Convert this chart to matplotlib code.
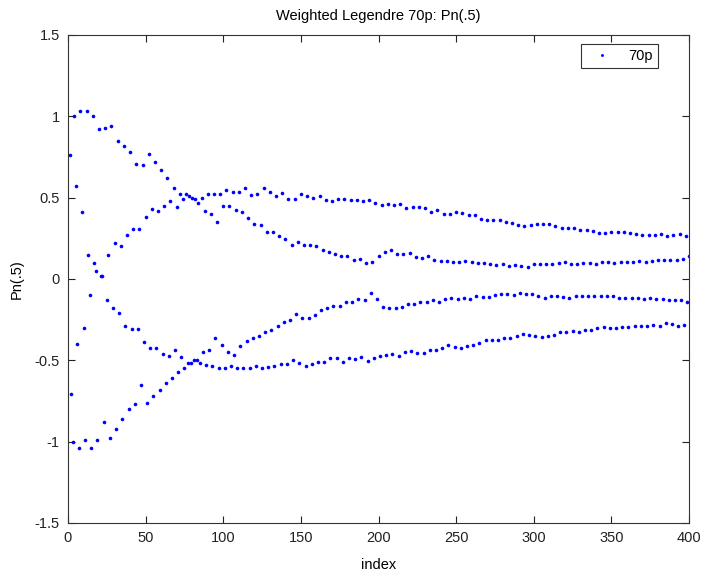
import numpy as np
import matplotlib
matplotlib.use("Agg")
import matplotlib.pyplot as plt

plt.rcParams['font.family'] = ['Liberation Sans', 'DejaVu Sans']

# four interleaved branches of the weighted Legendre values (every 4th index)
idx_a = np.arange(4, 401, 4)
val_a = [1.00, 1.03, 1.03, 1.00, 0.92, 0.93, 0.94, 0.85,
         0.82, 0.78, 0.71, 0.70,
         0.77, 0.72, 0.67, 0.62,
         0.56, 0.52, 0.52, 0.50,
         0.47, 0.42, 0.40, 0.35,
         0.45, 0.45, 0.426, 0.414, 0.373, 0.340, 0.332, 0.291,
         0.291, 0.266, 0.246, 0.209, 0.226, 0.209, 0.209, 0.201,
         0.176, 0.164, 0.152, 0.143, 0.139, 0.119, 0.123, 0.098,
         0.103, 0.143, 0.168, 0.176, 0.156, 0.156, 0.160, 0.135,
         0.131, 0.139, 0.119, 0.111, 0.111, 0.106, 0.106, 0.111,
         0.103, 0.098, 0.098, 0.094, 0.086, 0.094, 0.082, 0.086,
         0.082, 0.074, 0.090, 0.094, 0.094, 0.094, 0.098, 0.103,
         0.094, 0.094, 0.098, 0.098, 0.094, 0.103, 0.103, 0.098,
         0.106, 0.103, 0.103, 0.111, 0.106, 0.111, 0.115, 0.115,
         0.119, 0.115, 0.123, 0.143]

idx_b = np.arange(2, 401, 4)
val_b = [-0.71, -0.40, -0.30, -0.10, 0.05, 0.02, 0.15, 0.22,
         0.20, 0.27, 0.31, 0.31, 0.38, 0.43, 0.42, 0.45,
         0.48, 0.44, 0.49, 0.51, 0.49, 0.50, 0.52, 0.52,
         0.52, 0.55, 0.533, 0.533, 0.557, 0.516, 0.520, 0.557,
         0.533, 0.512, 0.528, 0.492, 0.492, 0.524, 0.512, 0.500,
         0.512, 0.487, 0.479, 0.492, 0.492, 0.484, 0.484, 0.479,
         0.487, 0.467, 0.455, 0.460, 0.455, 0.463, 0.434, 0.443,
         0.443, 0.438, 0.414, 0.422, 0.398, 0.398, 0.410, 0.406,
         0.393, 0.393, 0.369, 0.361, 0.365, 0.365, 0.348, 0.344,
         0.332, 0.328, 0.332, 0.340, 0.336, 0.336, 0.324, 0.315,
         0.315, 0.315, 0.303, 0.303, 0.295, 0.283, 0.283, 0.291,
         0.287, 0.287, 0.283, 0.275, 0.270, 0.270, 0.270, 0.275,
         0.266, 0.270, 0.275, 0.266]

idx_c = np.arange(1, 401, 4)
val_c = [0.76, 0.57, 0.41, 0.15, 0.10, 0.02, -0.13, -0.18,
         -0.21, -0.29, -0.31, -0.31, -0.39, -0.426, -0.426, -0.459,
         -0.475, -0.438, -0.479, -0.516, -0.500, -0.516, -0.529, -0.533,
         -0.545, -0.545, -0.537, -0.547, -0.549, -0.545, -0.533, -0.545,
         -0.541, -0.537, -0.524, -0.524, -0.500, -0.516, -0.533, -0.524,
         -0.508, -0.512, -0.487, -0.487, -0.512, -0.487, -0.492, -0.479,
         -0.504, -0.487, -0.473, -0.469, -0.459, -0.471, -0.451, -0.443,
         -0.455, -0.455, -0.438, -0.438, -0.422, -0.406, -0.418, -0.422,
         -0.414, -0.406, -0.393, -0.377, -0.377, -0.373, -0.365, -0.361,
         -0.352, -0.340, -0.342, -0.348, -0.356, -0.348, -0.344, -0.328,
         -0.324, -0.320, -0.324, -0.312, -0.312, -0.303, -0.295, -0.299,
         -0.303, -0.295, -0.295, -0.291, -0.291, -0.287, -0.283, -0.287,
         -0.270, -0.275, -0.287, -0.283]

idx_d = np.arange(3, 401, 4)
val_d = [-1.00, -1.04, -0.99, -1.04, -0.99, -0.88, -0.98, -0.92,
         -0.86, -0.80, -0.77, -0.65, -0.76, -0.72, -0.68, -0.64,
         -0.607, -0.574, -0.545, -0.516, -0.496, -0.451, -0.438, -0.365,
         -0.406, -0.447, -0.465, -0.414, -0.381, -0.365, -0.349, -0.328,
         -0.315, -0.287, -0.262, -0.250, -0.217, -0.238, -0.238, -0.221,
         -0.193, -0.180, -0.164, -0.164, -0.139, -0.143, -0.123, -0.131,
         -0.086, -0.123, -0.174, -0.180, -0.176, -0.172, -0.156, -0.156,
         -0.143, -0.143, -0.131, -0.139, -0.123, -0.119, -0.123, -0.119,
         -0.123, -0.106, -0.111, -0.111, -0.098, -0.094, -0.094, -0.098,
         -0.086, -0.090, -0.094, -0.102, -0.115, -0.106, -0.106, -0.111,
         -0.115, -0.102, -0.102, -0.102, -0.106, -0.106, -0.106, -0.106,
         -0.119, -0.115, -0.115, -0.119, -0.123, -0.119, -0.123, -0.123,
         -0.131, -0.127, -0.127, -0.143]

x_ticks = [0, 50, 100, 150, 200, 250, 300, 350, 400]
y_ticks = [-1.5, -1, -0.5, 0, 0.5, 1, 1.5]
y_ticklabels = ["-1.5", "-1", "-0.5", "0", "0.5", "1", "1.5"]

# merge branches back into index order
idx = np.concatenate([idx_a, idx_b, idx_c, idx_d])
val = np.concatenate([val_a, val_b, val_c, val_d])
order = np.argsort(idx)

fig = plt.figure(figsize=(7.01, 5.75), dpi=100)
ax = fig.add_axes([68 / 701, 52 / 575, 621 / 701, 488 / 575])

ax.plot(idx[order], val[order], linestyle="none", marker="o", markersize=2.6,
        markeredgewidth=0, color="#0000ff", label="70p")

ax.set_xlim(0, 400)
ax.set_ylim(-1.5, 1.5)
ax.set_xticks(x_ticks)
ax.set_yticks(y_ticks)
ax.set_yticklabels(y_ticklabels)
ax.tick_params(direction="in", top=True, right=True, length=5, width=0.8,
               labelsize=10.5, colors="#222222", pad=6)
for s in ax.spines.values():
    s.set_color("#333333")
    s.set_linewidth(0.8)

ax.set_title("Weighted Legendre 70p: Pn(.5)", fontsize=10.5, pad=11)
ax.set_xlabel("index", fontsize=10.5, labelpad=9)
ax.set_ylabel("Pn(.5)", fontsize=10.5, labelpad=8)

leg = ax.legend(loc="upper right", bbox_to_anchor=(0.950, 0.982), borderaxespad=0,
                fancybox=False, framealpha=1, edgecolor="#333333", fontsize=10.5,
                handlelength=2.2, handletextpad=0.7, borderpad=0.35, markerscale=0.8)
leg.get_frame().set_linewidth(0.8)

fig.savefig("out.png", dpi=100, facecolor="white")
